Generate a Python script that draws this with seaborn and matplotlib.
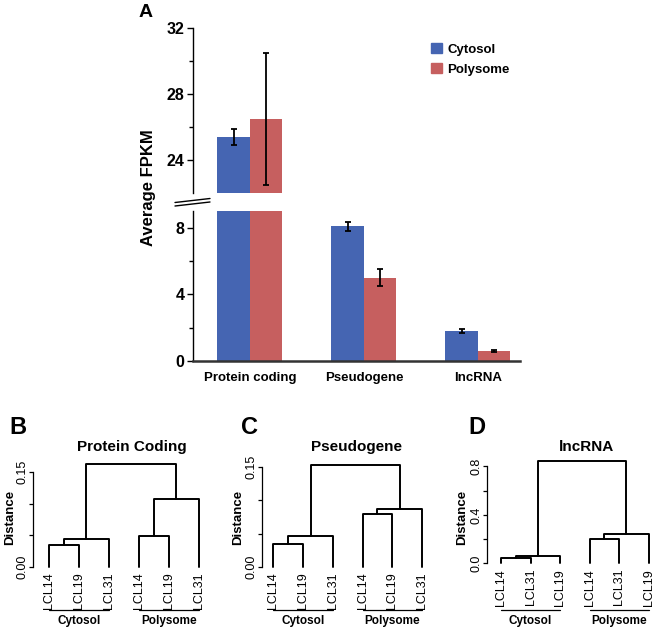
import pandas as pd
import matplotlib
matplotlib.use("Agg")
import matplotlib.pyplot as plt
import seaborn as sns
from matplotlib.patches import Patch
from matplotlib.lines import Line2D
from matplotlib.transforms import blended_transform_factory

# -------------------------------
# Data
# -------------------------------
categories = ["Protein coding", "Pseudogene", "lncRNA"]
fractions = ["Cytosol", "Polysome"]
cytosol_fpkm = [25.4, 8.07, 1.8]
polysome_fpkm = [26.5, 5.0, 0.6]
cytosol_err = [0.5, 0.27, 0.1]
polysome_err = [4.0, 0.5, 0.07]

leaf_b = ["LCL14", "LCL19", "LCL31", "LCL14", "LCL19", "LCL31"]
merge_b = [(0, 1, 0.034), (6, 2, 0.044), (3, 4, 0.049), (8, 5, 0.108), (7, 9, 0.163)]
leaf_c = ["LCL14", "LCL19", "LCL31", "LCL14", "LCL19", "LCL31"]
merge_c = [(0, 1, 0.034), (6, 2, 0.0465), (3, 4, 0.079), (8, 5, 0.0865), (7, 9, 0.153)]
leaf_d = ["LCL14", "LCL31", "LCL19", "LCL14", "LCL31", "LCL19"]
merge_d = [(0, 1, 0.047), (6, 2, 0.06), (3, 4, 0.20), (8, 5, 0.24), (7, 9, 0.845)]
groups = ["Cytosol", "Polysome"]

blue = "#4565B2"
red = "#C65F5F"

sns.set_theme(style="white")
plt.rcParams["font.family"] = ["Liberation Sans", "DejaVu Sans"]
plt.rcParams["text.color"] = "black"
plt.rcParams["axes.labelcolor"] = "black"
plt.rcParams["xtick.color"] = "black"
plt.rcParams["ytick.color"] = "black"

W, H = 655, 630
fig = plt.figure(figsize=(W / 100, H / 100), dpi=100)


def rect(x0, y0, x1, y1):
    # pixel box -> figure fraction
    return [x0 / W, 1 - y1 / H, (x1 - x0) / W, (y1 - y0) / H]


# -------------------------------
# Panel A: broken bar chart
# -------------------------------
df = pd.DataFrame({
    "category": categories * 2,
    "fraction": ["Cytosol"] * 3 + ["Polysome"] * 3,
    "fpkm": cytosol_fpkm + polysome_fpkm,
})
errs = {"Cytosol": cytosol_err, "Polysome": polysome_err}

ax_top = fig.add_axes(rect(193, 28, 520, 193))
ax_bot = fig.add_axes(rect(193, 211, 520, 361))

for ax in (ax_top, ax_bot):
    sns.barplot(data=df, x="category", y="fpkm", hue="fraction",
                order=categories, hue_order=fractions,
                palette=[blue, red], width=0.57, saturation=1,
                errorbar=None, linewidth=0, legend=False, ax=ax)
    for cont, frac in zip(ax.containers, fractions):
        for bar, e in zip(cont, errs[frac]):
            ax.errorbar(bar.get_x() + bar.get_width() / 2, bar.get_height(),
                        yerr=e, fmt="none", ecolor="black",
                        elinewidth=1.3, capsize=2.5, capthick=1.3)
    ax.set_xlim(-0.5, 2.37)
    ax.set_xlabel("")
    ax.set_ylabel("")
    ax.spines["top"].set_visible(False)
    ax.spines["right"].set_visible(False)
    ax.spines["left"].set_linewidth(1.0)
    ax.spines["left"].set_color("black")
    ax.tick_params(axis="y", which="major", length=4, width=1, color="black",
                   left=True, pad=2, labelsize=11.5)
    ax.tick_params(axis="y", which="minor", length=3, width=1, color="black", left=True)

ax_top.set_ylim(22, 32)
ax_top.set_yticks([24, 28, 32])
ax_top.set_yticks([26, 30], minor=True)
ax_top.set_yticklabels(["24", "28", "32"], fontweight="bold")
ax_top.spines["bottom"].set_visible(False)
ax_top.tick_params(axis="x", bottom=False, labelbottom=False)

ax_bot.set_ylim(0, 9)
ax_bot.set_yticks([0, 4, 8])
ax_bot.set_yticks([2, 6], minor=True)
ax_bot.set_yticklabels(["0", "4", "8"], fontweight="bold")
ax_bot.spines["bottom"].set_linewidth(1.8)
ax_bot.spines["bottom"].set_color("#333333")
ax_bot.tick_params(axis="x", length=0, pad=8, labelsize=9.5)
for lbl in ax_bot.get_xticklabels():
    lbl.set_fontweight("bold")

# axis break marks
for dy in (0, 3.5):
    fig.add_artist(Line2D([175 / W, 210 / W],
                          [1 - (202.5 + dy) / H, 1 - (198.5 + dy) / H],
                          color="black", lw=1.0))

fig.text(149 / W, 1 - 188 / H, "Average FPKM", rotation=90, ha="center",
         va="center", fontsize=12, fontweight="bold")
fig.text(146 / W, 1 - 12.5 / H, "A", ha="center", va="center",
         fontsize=14, fontweight="bold")

fig.legend(handles=[Patch(color=blue, label="Cytosol"),
                    Patch(color=red, label="Polysome")],
           loc="upper left", bbox_to_anchor=(431 / W, 1 - 43 / H),
           frameon=False, borderpad=0, borderaxespad=0,
           handlelength=0.8, handleheight=0.8, handletextpad=0.45,
           labelspacing=0.55, prop={"size": 9.5, "weight": "bold"})


# -------------------------------
# Panels B-D: dendrograms
# -------------------------------
def draw_dendro(ax, merges, n):
    xs = {i: i + 1 for i in range(n)}
    hs = {i: 0.0 for i in range(n)}
    for k, (a, b, h) in enumerate(merges):
        ax.plot([xs[a], xs[a], xs[b], xs[b]], [hs[a], h, h, hs[b]],
                color="black", lw=1.4, clip_on=False)
        xs[n + k] = (xs[a] + xs[b]) / 2
        hs[n + k] = h


panels = [
    # axes box (px), xlim, y ticks, tick labels, leaves, merges, title, letter, ylabel x
    ((33, 214, 567, 0.17, 633), (0.467, 6.5), [0, 0.05, 0.10, 0.15],
     ["0.00", "", "", "0.15"], leaf_b, merge_b, "Protein Coding", 132, "B", 18, 10.5),
    ((262, 437, 567, 0.16, 667), (0.62, 6.5), [0, 0.05, 0.10, 0.15],
     ["0.00", "", "", "0.15"], leaf_c, merge_c, "Pseudogene", 356, "C", 249, 238),
    ((487, 651.5, 563.3, 0.9, 121), (0.525, 6.1), [0, 0.2, 0.4, 0.6, 0.8],
     ["0.0", "", "0.4", "", "0.8"], leaf_d, merge_d, "lncRNA", 586, "D", 477, 462.5),
]

for box, xlim, yticks, ylabels, leaves, merges, title, tx, letter, lx, dx in panels:
    x0, x1, y0, ymax, ppu = box
    ax = fig.add_axes(rect(x0, y0 - ymax * ppu, x1, y0))
    draw_dendro(ax, merges, len(leaves))
    ax.set_xlim(*xlim)
    ax.set_ylim(0, ymax)
    for s in ("top", "right", "bottom"):
        ax.spines[s].set_visible(False)
    ax.spines["left"].set_bounds(yticks[0], yticks[-1])
    ax.spines["left"].set_linewidth(0.9)
    ax.spines["left"].set_color("black")
    ax.set_yticks(yticks)
    ax.set_yticklabels(ylabels)
    ax.tick_params(axis="y", left=True, length=3, width=0.9, color="black",
                   labelrotation=90, labelsize=9, pad=0)
    for lbl in ax.get_yticklabels():
        lbl.set_va("center")
    ax.set_xticks(range(1, len(leaves) + 1))
    ax.set_xticklabels(leaves, rotation=90, va="top", ha="center")
    ax.tick_params(axis="x", length=0, pad=4, labelsize=9)

    # group underline + label
    tr = blended_transform_factory(ax.transData, fig.transFigure)
    for g, (a, b) in zip(groups, [(1, 3), (4, 6)]):
        ax.plot([a, b], [1 - 610 / H, 1 - 610 / H], color="black", lw=0.9,
                transform=tr, clip_on=False)
        ax.text((a + b) / 2, 1 - 621 / H, g, transform=tr, ha="center",
                va="center", fontsize=8.5, fontweight="bold")

    fig.text(dx / W, 1 - 517 / H, "Distance", rotation=90, ha="center",
             va="center", fontsize=9.5, fontweight="bold")
    fig.text(tx / W, 1 - 447 / H, title, ha="center", va="center",
             fontsize=11, fontweight="bold")
    fig.text(lx / W, 1 - 427 / H, letter, ha="center", va="center",
             fontsize=17, fontweight="bold")

fig.savefig("out.png", dpi=100)
